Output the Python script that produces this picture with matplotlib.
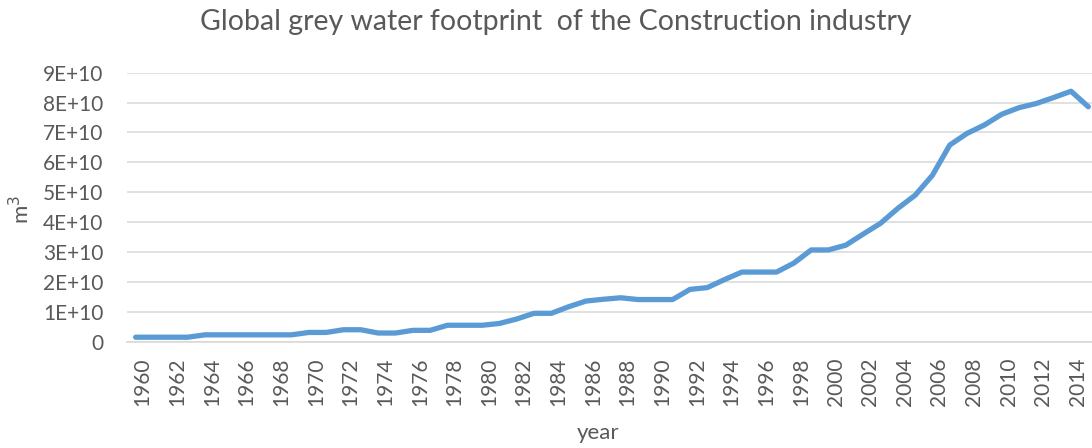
import matplotlib
matplotlib.use("Agg")
import matplotlib.pyplot as plt
import matplotlib.transforms as mtransforms
from matplotlib.ticker import FuncFormatter

# grey water footprint, m3 per year
years = list(range(1960, 2016))
footprint = [
    1.5e9, 1.5e9, 1.5e9, 1.5e9, 2.3e9, 2.3e9, 2.3e9, 2.3e9, 2.3e9, 2.3e9,
    3.1e9, 3.1e9, 4.0e9, 4.0e9, 2.9e9, 2.9e9, 3.8e9, 3.8e9, 5.5e9, 5.5e9,
    5.5e9, 6.1e9, 7.6e9, 9.5e9, 9.5e9, 11.7e9, 13.6e9, 14.2e9, 14.7e9, 14.1e9,
    14.1e9, 14.1e9, 17.5e9, 18.1e9, 20.8e9, 23.3e9, 23.3e9, 23.3e9, 26.3e9, 30.7e9,
    30.7e9, 32.3e9, 36.0e9, 39.6e9, 44.6e9, 49.0e9, 55.7e9, 65.8e9, 69.7e9, 72.5e9,
    76.1e9, 78.3e9, 79.7e9, 81.7e9, 83.8e9, 78.6e9,
]
tick_years = list(range(1960, 2015, 2))
y_ticks = [i * 1e10 for i in range(10)]

grey = "#595959"
plt.rcParams["font.family"] = ["Lato", "DejaVu Sans"]

fig = plt.figure(figsize=(10.92, 4.48), dpi=100)
# plot area runs past the right edge of the picture, as in the original crop
ax = fig.add_axes([127 / 1092, 106.3 / 448, 970 / 1092, 269 / 448])

ax.plot(years, footprint, color="#5B9BD5", linewidth=3.8,
        solid_capstyle="round", solid_joinstyle="round", zorder=3)

ax.set_xlim(1959.5, 2015.5)
ax.set_ylim(0, 9e10)
ax.set_yticks(y_ticks)
ax.yaxis.set_major_formatter(FuncFormatter(
    lambda v, pos: "0" if v == 0 else "%dE+10" % round(v / 1e10)))
ax.set_xticks(tick_years)
ax.set_xticklabels([str(y) for y in tick_years], rotation=90)

ax.grid(axis="y", color="#D9D9D9", linewidth=1.1)
ax.set_axisbelow(True)
for side in ("top", "right", "left"):
    ax.spines[side].set_visible(False)
ax.spines["bottom"].set_color("#D9D9D9")
ax.spines["bottom"].set_linewidth(1.2)

ax.tick_params(axis="both", length=0, labelsize=15, labelcolor=grey)
ax.tick_params(axis="y", pad=17)
ax.tick_params(axis="x", pad=11.5)

# x labels sit a little right of their category
shift = mtransforms.ScaledTranslation(0.07, 0, fig.dpi_scale_trans)
for lbl in ax.get_xticklabels():
    lbl.set_transform(lbl.get_transform() + shift)

ax.set_xlabel("year", fontsize=16, color=grey)
ax.set_ylabel("m$^3$", fontsize=16, color=grey)
ax.xaxis.set_label_coords(0.4856, -0.302)
ax.yaxis.set_label_coords(-0.097, 0.49)

fig.text(556 / 1092, 1 - 22 / 448,
         "Global grey water footprint  of the Construction industry",
         ha="center", va="center", fontsize=20.5, color=grey)

fig.savefig("out.png", dpi=100)
